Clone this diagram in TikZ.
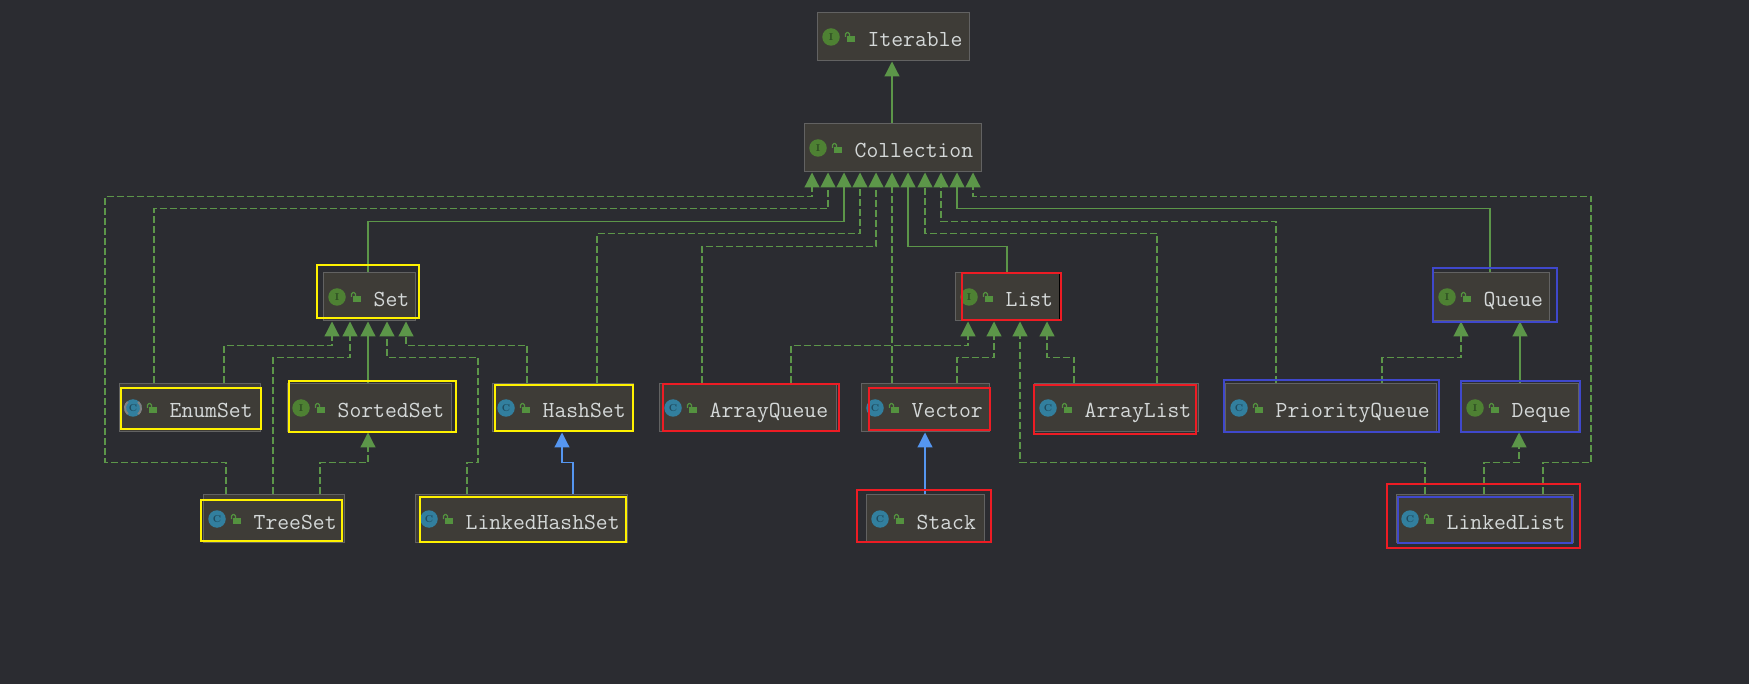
\documentclass[tikz,border=0pt]{standalone}
\usepackage{tikz}
\usetikzlibrary{arrows.meta,positioning,calc}
\definecolor{bgdark}{HTML}{2B2C31}
\definecolor{boxfill}{HTML}{3E3C37}
\definecolor{boxedge}{HTML}{626262}
\definecolor{txtlight}{HTML}{D4D8D8}
\definecolor{linegreen}{HTML}{5C9649}
\definecolor{lineblue}{HTML}{5596F0}
\definecolor{iconI}{HTML}{4E8133}
\definecolor{iconC}{HTML}{327F9E}
\definecolor{letterI}{HTML}{2C4A22}
\definecolor{letterC}{HTML}{1F4C60}
\definecolor{lockgreen}{HTML}{54923F}
\definecolor{hlyellow}{HTML}{FFF200}
\definecolor{hlred}{HTML}{ED1C24}
\definecolor{hlblue}{HTML}{3F48CC}
\tikzset{
 clsbox/.style={draw=boxedge,fill=boxfill,line width=1pt,inner sep=0pt,anchor=north west,minimum height=48pt},
 clsname/.style={anchor=base west,inner sep=0pt,text=txtlight,font=\ttfamily\fontsize{23}{25}\selectfont},
 iconmark/.style={circle,inner sep=0pt,minimum size=17.5pt,font=\bfseries\fontsize{10}{10}\selectfont},
 dep/.style={draw=linegreen,line width=1.2pt,dash pattern=on 7pt off 3pt,-{Triangle[width=15pt,length=15pt,fill=linegreen]},shorten >=0.5pt},
 sub/.style={draw=linegreen,line width=1.2pt,-{Triangle[width=15pt,length=15pt,fill=linegreen]},shorten >=0.5pt},
 subcls/.style={draw=lineblue,line width=1.2pt,-{Triangle[width=15pt,length=15pt,fill=lineblue]},shorten >=0.5pt},
 hlbox/.style={line width=1.8pt},
}
\begin{document}
\begin{tikzpicture}[x=1pt,y=-1pt]
\useasboundingbox (0,0) rectangle (1749,684);
\fill[bgdark] (0,0) rectangle (1749,684);
% class boxes
\foreach \cname/\ctext/\ckind/\cx/\cy/\cw in {
 iterable/Iterable/I/817/12/152, collection/Collection/I/804/123/177,
 set/Set/I/323/272/92, list/List/I/955/272/105, queue/Queue/I/1433/272/116,
 enumset/EnumSet/C/119/383/141, sortedset/SortedSet/I/287/383/164,
 hashset/HashSet/C/492/383/141, arrayqueue/ArrayQueue/C/659/383/177,
 vector/Vector/C/861/383/128, arraylist/ArrayList/C/1034/383/164,
 priorityqueue/PriorityQueue/C/1225/383/211, deque/Deque/I/1461/383/117,
 treeset/TreeSet/C/203/494/141, linkedhashset/LinkedHashSet/C/415/494/212,
 stack/Stack/C/866/494/118, linkedlist/LinkedList/C/1396/494/177} {
 \node[clsbox,minimum width=\cw pt] (\cname) at (\cx,\cy) {};
 \begin{scope}[shift={(\cname.north west)}]
 \node[iconmark,fill=icon\ckind,text=letter\ckind] (\cname-icon) at (14,25) {\ckind};
 \fill[lockgreen] (30,24) rectangle (38,30);
 \draw[lockgreen,line width=1.1pt,rounded corners=1.5pt] (28.5,25) -- (28.5,20.5) -- (32.5,20.5) -- (32.5,24);
 \node[clsname] (\cname-text) at (50.5,35) {\ctext};
 \end{scope}
}
\begin{scope}[shift={(enumset.north west)}]
 \draw[boxedge!80!white,line width=2pt] (14,25) ++(130:8) arc (130:230:8);
 \draw[boxedge!80!white,line width=2pt] (14,25) ++(-50:8) arc (-50:50:8);
\end{scope}
% up to Collection and Iterable
\draw[sub] (892,0 |- collection.north) -- (892,0 |- iterable.south);
\draw[dep] (226,0 |- treeset.north) |- (105,462.5) |- (812,196.5) -- (812,0 |- collection.south);
\draw[dep] (154,0 |- enumset.north) |- (828,208.5) -- (828,0 |- collection.south);
\draw[sub] (368,0 |- set.north) |- (844,221.5) -- (844,0 |- collection.south);
\draw[dep] (597,0 |- hashset.north) |- (860,233.5) -- (860,0 |- collection.south);
\draw[dep] (702,0 |- arrayqueue.north) |- (876,246.5) -- (876,0 |- collection.south);
\draw[dep] (892,0 |- vector.north) -- (892,0 |- collection.south);
\draw[sub] (1007,0 |- list.north) |- (908,246.5) -- (908,0 |- collection.south);
\draw[dep] (1157,0 |- arraylist.north) |- (925,233.5) -- (925,0 |- collection.south);
\draw[dep] (1276,0 |- priorityqueue.north) |- (941,221.5) -- (941,0 |- collection.south);
\draw[sub] (1490,0 |- queue.north) |- (957,208.5) -- (957,0 |- collection.south);
\draw[dep] (1543,0 |- linkedlist.north) |- (1591,462.5) |- (973,196.5) -- (973,0 |- collection.south);
% Set branch
\draw[dep] (224,0 |- enumset.north) |- (332,345.5) -- (332,0 |- set.south);
\draw[dep] (273,0 |- treeset.north) |- (350,357.5) -- (350,0 |- set.south);
\draw[sub] (368,0 |- sortedset.north) -- (368,0 |- set.south);
\draw[dep] (467,0 |- linkedhashset.north) |- (478,462.5) |- (387,357.5) -- (387,0 |- set.south);
\draw[dep] (527,0 |- hashset.north) |- (406,345.5) -- (406,0 |- set.south);
\draw[dep] (320,0 |- treeset.north) |- (368,462.5) -- (368,0 |- sortedset.south);
\draw[subcls] (573,0 |- linkedhashset.north) |- (562,462.5) -- (562,0 |- hashset.south);
% List branch
\draw[dep] (791,0 |- arrayqueue.north) |- (968,345.5) -- (968,0 |- list.south);
\draw[dep] (957,0 |- vector.north) |- (994,357.5) -- (994,0 |- list.south);
\draw[dep] (1425,0 |- linkedlist.north) |- (1020,462.5) -- (1020,0 |- list.south);
\draw[dep] (1074,0 |- arraylist.north) |- (1047,357.5) -- (1047,0 |- list.south);
\draw[subcls] (925,0 |- stack.north) -- (925,0 |- vector.south);
% Queue branch
\draw[dep] (1382,0 |- priorityqueue.north) |- (1461,357.5) -- (1461,0 |- queue.south);
\draw[sub] (1520,0 |- deque.north) -- (1520,0 |- queue.south);
\draw[dep] (1484,0 |- linkedlist.north) |- (1519,462.5) -- (1519,0 |- deque.south);
% hand-drawn frames
\foreach \hl/\xa/\ya/\xb/\yb in {
 yellow/317/265/419/318, yellow/121/388/261/429, yellow/289/381/456/432,
 yellow/495/385/633/431, yellow/201/500/342/541, yellow/420/497/626/542,
 red/962/273/1061/320, red/663/384/839/431, red/869/388/990/430,
 red/1034/385/1196/434, red/857/490/991/542, red/1387/484/1580/548,
 blue/1433/268/1557/322, blue/1224/380/1439/432, blue/1461/381/1580/432,
 blue/1398/497/1572/543} {
 \draw[hlbox,draw=hl\hl] (\xa,\ya) rectangle (\xb,\yb);
}
\draw[black,line width=1pt] (1059,274) -- (1059,319);
\end{tikzpicture}
\end{document}
